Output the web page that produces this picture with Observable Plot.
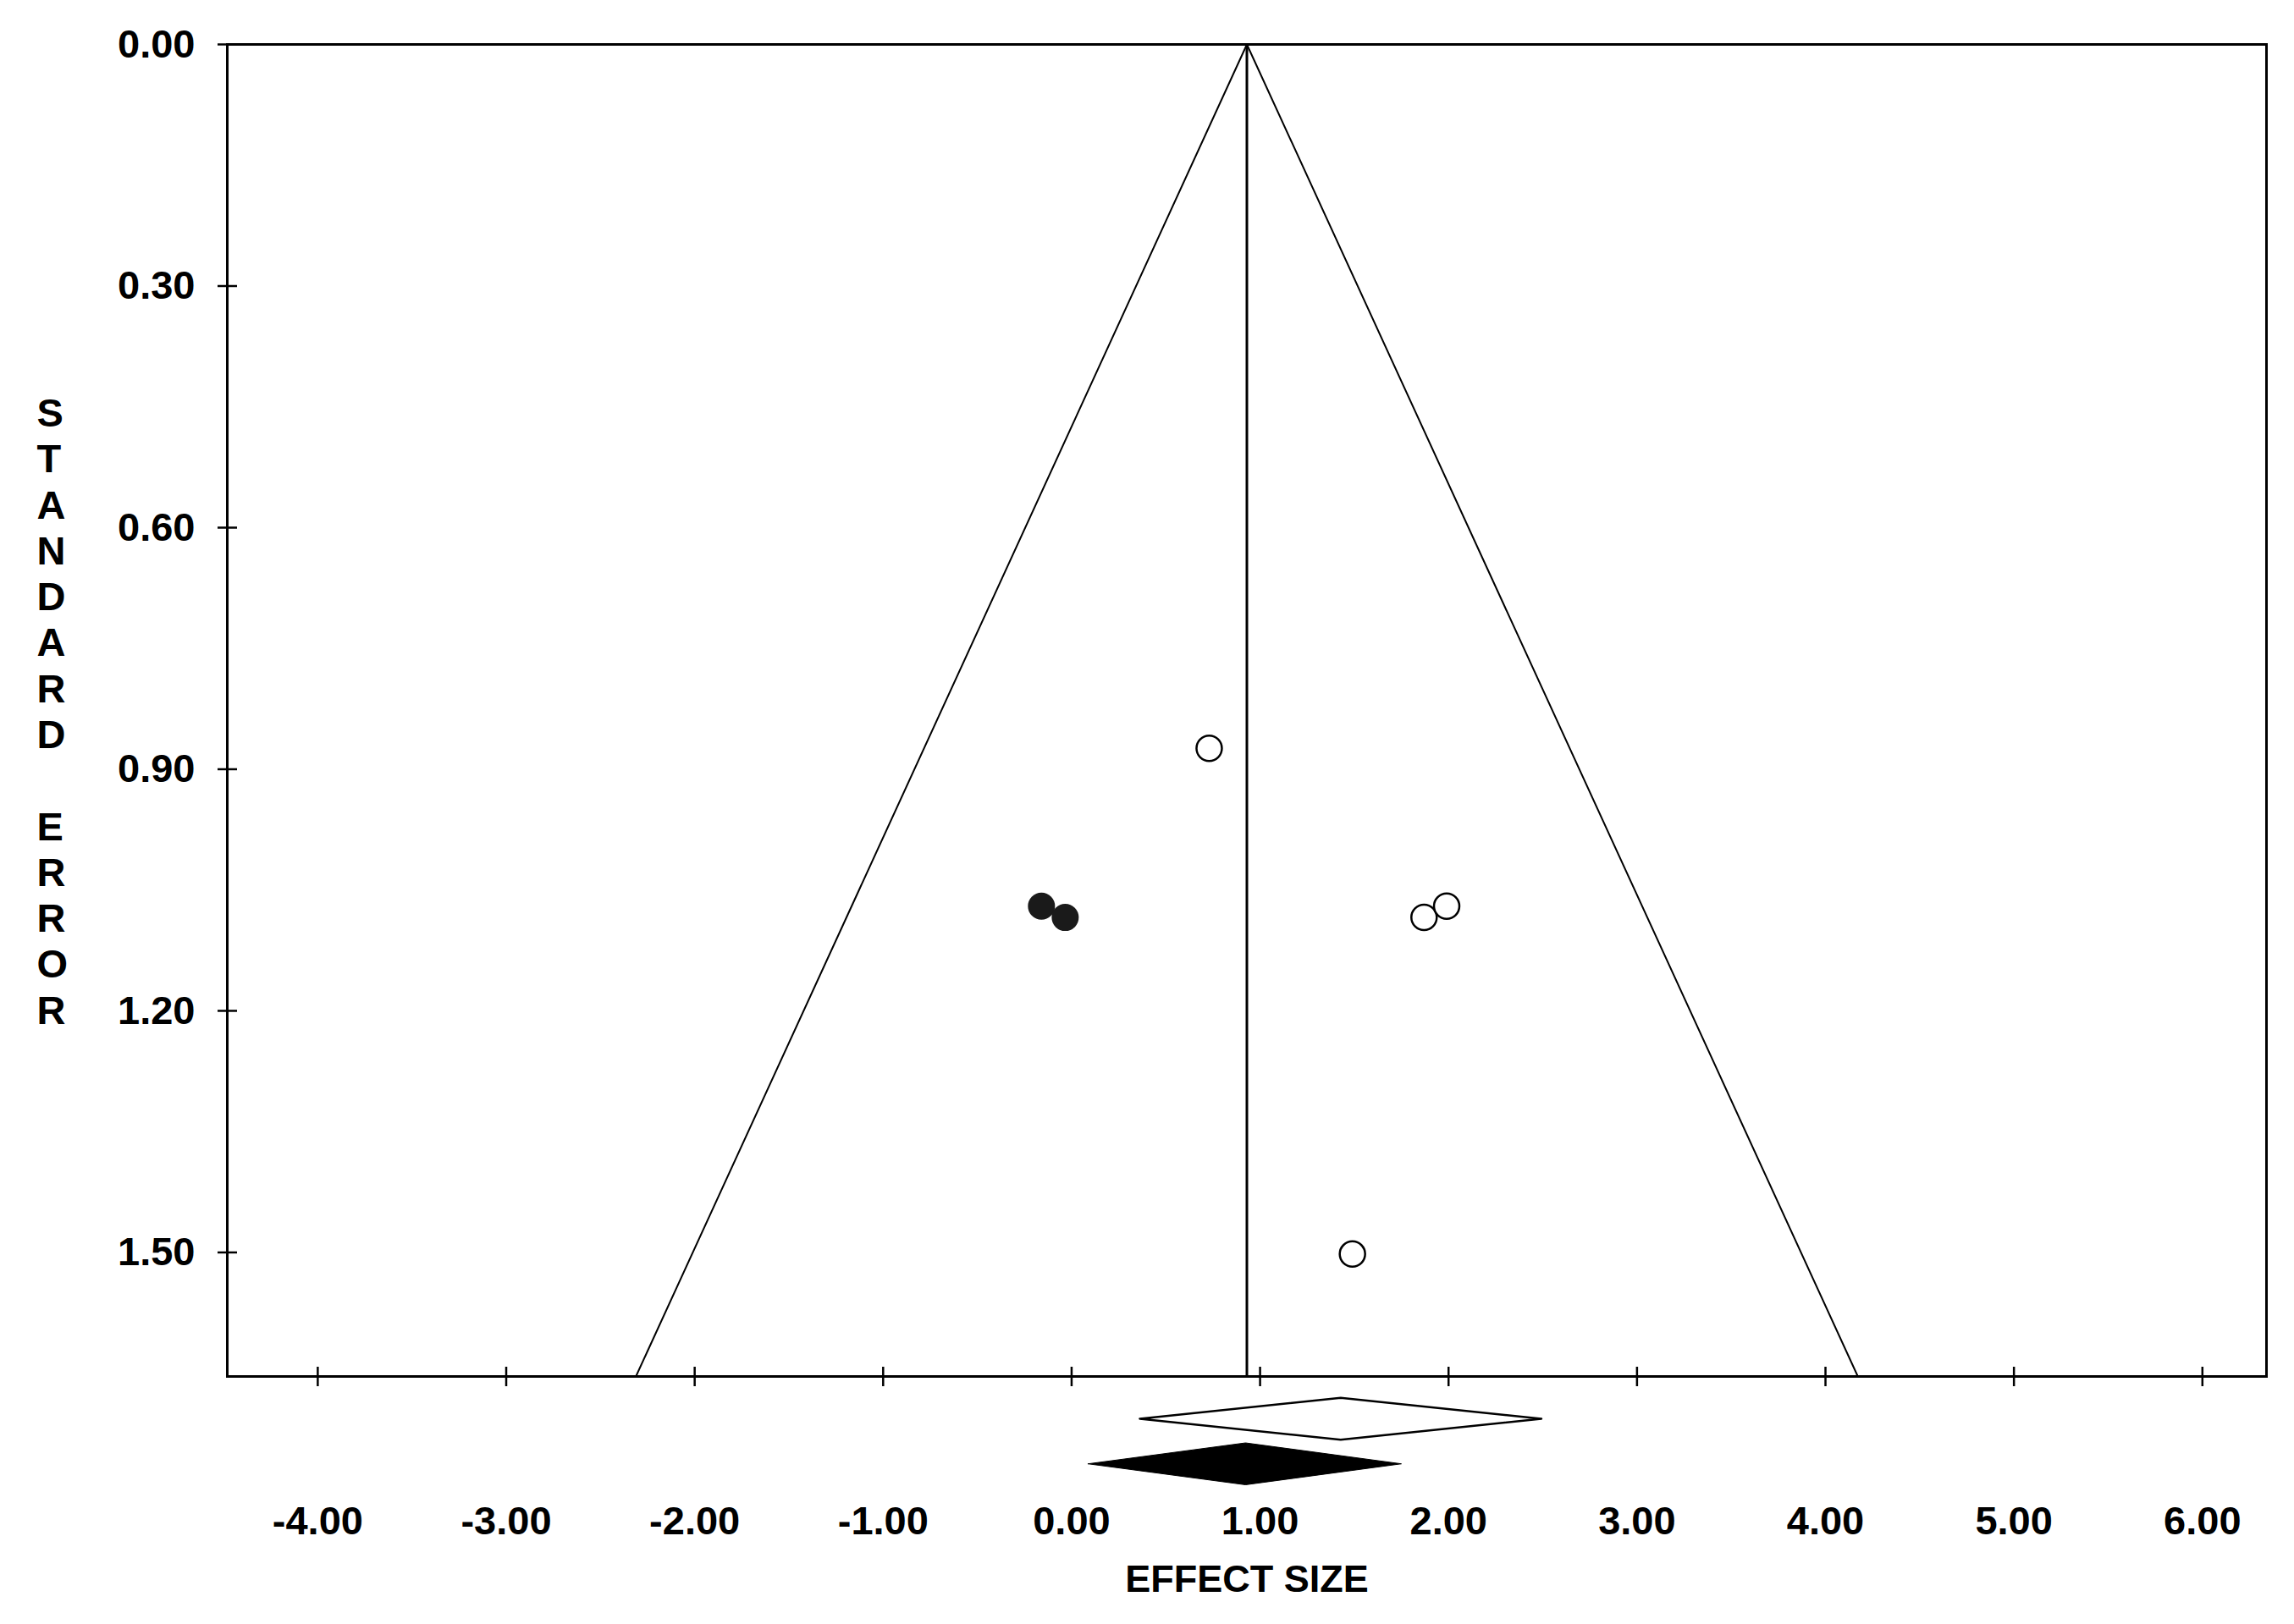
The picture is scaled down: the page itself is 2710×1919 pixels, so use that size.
<!DOCTYPE html>
<html><head><meta charset="utf-8">
<script src="https://cdn.jsdelivr.net/npm/d3@7"></script>
<script src="https://cdn.jsdelivr.net/npm/@observablehq/plot@0.6"></script>
<style>body{margin:0;background:#fff}</style>
</head><body><div id="chart"></div>
<script>
const xTicks = [-4, -3, -2, -1, 0, 1, 2, 3, 4, 5, 6];
const yTicks = [0, 0.3, 0.6, 0.9, 1.2, 1.5];
const xDomain = [-4.48, 6.34];
const yDomain = [0, 1.654];
const observedEffect = [0.73, 1.87, 1.99, 1.49];
const observedSE = [0.874, 1.084, 1.070, 1.502];
const imputedEffect = [-0.16, -0.034];
const imputedSE = [1.070, 1.084];
const adjustedMean = 0.93;
const observedDiamond = [0.364, 1.43, 2.495];   // lower, estimate, upper
const adjustedDiamond = [0.09, 0.925, 1.752];   // lower, estimate, upper
const yTitle = "STANDARD ERROR";
const xTitle = "EFFECT SIZE";

const observed = observedEffect.map((e, i) => ({effect: e, se: observedSE[i]}));
const imputed = imputedEffect.map((e, i) => ({effect: e, se: imputedSE[i]}));
const seMax = yDomain[1];
const funnel = [
  {x: adjustedMean - 1.96 * seMax, y: seMax},
  {x: adjustedMean, y: 0},
  {x: adjustedMean + 1.96 * seMax, y: seMax}
];
const halfH = 0.026;
function diamond([lo, est, hi], level) {
  return [
    {x: lo, y1: level, y2: level},
    {x: est, y1: level - halfH, y2: level + halfH},
    {x: hi, y1: level, y2: level}
  ];
}
const obsRows = diamond(observedDiamond, 1.707);
const adjRows = diamond(adjustedDiamond, 1.763);

const chart = Plot.plot({
  width: 2710,
  height: 1919,
  marginLeft: 268,
  marginRight: 33,
  marginTop: 52,
  marginBottom: 293,
  x: {domain: xDomain, axis: null},
  y: {domain: yDomain, reverse: true, axis: null},
  style: {fontFamily: "'Liberation Sans', Arial, sans-serif", fontWeight: "bold", fontSize: "47px", background: "#fff", color: "#000"},
  marks: [
    Plot.line(funnel, {x: "x", y: "y", stroke: "#000", strokeWidth: 2}),
    Plot.ruleX([adjustedMean], {y1: 0, y2: seMax, stroke: "#000", strokeWidth: 3}),
    Plot.frame({stroke: "#000", strokeWidth: 3}),
    Plot.ruleY(yTicks, {y: d => d, x1: () => xDomain[0], x2: () => xDomain[0], insetLeft: -11, insetRight: -12, stroke: "#000", strokeWidth: 2.5}),
    Plot.ruleX(xTicks, {x: d => d, y1: () => seMax, y2: () => seMax, insetTop: 12, insetBottom: 11, stroke: "#000", strokeWidth: 2.5}),
    Plot.text(yTicks, {x: () => xDomain[0], y: d => d, text: d => d.toFixed(2), textAnchor: "end", dx: -38, fill: "#000"}),
    Plot.text(xTicks, {x: d => d, y: () => seMax, text: d => d.toFixed(2), dy: 171, fill: "#000"}),
    Plot.dot(imputed, {x: "effect", y: "se", r: 16, fill: "#1a1a1a", stroke: "none"}),
    Plot.dot(observed, {x: "effect", y: "se", r: 15, fill: "#fff", stroke: "#000", strokeWidth: 2.5}),
    Plot.areaY(obsRows, {x: "x", y1: "y1", y2: "y2", fill: "#fff", stroke: "#000", strokeWidth: 2.5}),
    Plot.areaY(adjRows, {x: "x", y1: "y1", y2: "y2", fill: "#000", stroke: "#000", strokeWidth: 1}),
    Plot.text([xTitle], {frameAnchor: "bottom", dy: 254, text: d => d, fill: "#000", fontSize: 45}),
    Plot.text([yTitle], {frameAnchor: "left", dx: -225, text: d => d.split("").join("\n"), lineHeight: 1.155, fill: "#000", fontSize: 47})
  ]
});
document.getElementById("chart").appendChild(chart);
</script>
</body></html>
